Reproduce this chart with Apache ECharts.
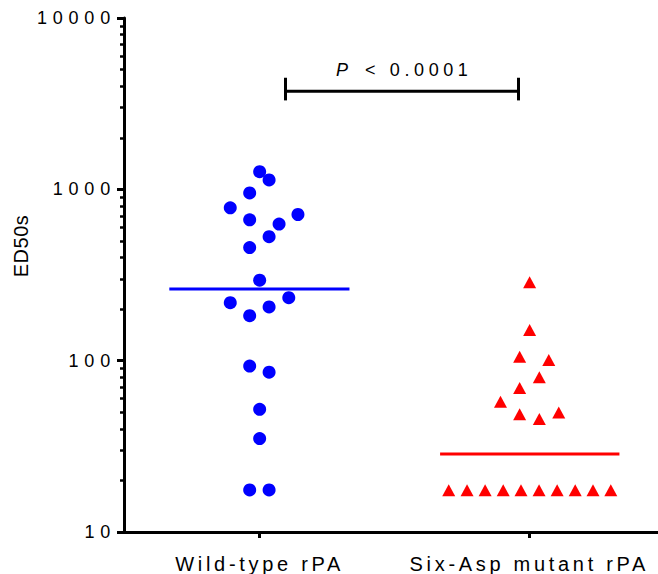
<!DOCTYPE html>
<html>
<head>
<meta charset="utf-8">
<script src="https://cdn.jsdelivr.net/npm/echarts@6/dist/echarts.min.js"></script>
<style>
html,body{margin:0;padding:0;background:#fff;}
#main{width:658px;height:574px;}
</style>
</head>
<body>
<div id="main"></div>
<script>
// ---- data ----
const categories = ['Wild-type rPA', 'Six-Asp mutant rPA'];
const categoryPos = [1, 2];
const yMajorTicks = [10, 100, 1000, 10000];
const yMinorTicks = [20, 30, 40, 50, 60, 70, 80, 90,
                     200, 300, 400, 500, 600, 700, 800, 900,
                     2000, 3000, 4000, 5000, 6000, 7000, 8000, 9000];
const yAxisName = 'ED50s';

// Wild-type rPA (blue circles): horizontal jitter position + value
const wtX = [1.000, 1.035, 0.963, 0.891, 0.963, 1.142, 1.072, 1.035, 0.963, 1.000,
             0.891, 1.108, 1.035, 0.963, 0.963, 1.035, 1.000, 1.000, 0.963, 1.035];
const wtY = [1268, 1134, 953, 780, 664, 713, 627, 529, 457, 295,
             218, 233, 206, 183, 93, 85.7, 52, 35.1, 17.6, 17.6];
const wtMedian = 262;
const wtMedianSpan = [0.665, 1.333];

// Six-Asp mutant rPA (red triangles)
const mutX = [2.001, 2.001, 1.964, 2.072, 2.037, 1.964, 1.893, 1.964, 2.037, 2.109,
              1.701, 1.769, 1.836, 1.903, 1.969, 2.036, 2.103, 2.170, 2.236, 2.302];
const mutY = [287, 151, 105.5, 101, 80, 69.2, 57.5, 48.6, 45.7, 49.9,
              17.5, 17.5, 17.5, 17.5, 17.5, 17.5, 17.5, 17.5, 17.5, 17.5];
const mutMedian = 28.5;
const mutMedianSpan = [1.669, 2.334];

// significance annotation
const bracketX = [1.094, 1.959];
const bracketY = 3741;
const bracketCap = [3304, 4480];
const pLabelY = 5000;
const pItalicX = 1.3055;
const pRestX = 1.391;
const pLabelItalic = 'P';
const pLabelRest = '< 0.0001';

// ---- chart ----
const FONT = '"Liberation Sans", Arial, Helvetica, sans-serif';
const chart = echarts.init(document.getElementById('main'), null, {renderer: 'svg'});

const option = {
  animation: false,
  backgroundColor: '#ffffff',
  textStyle: {fontFamily: FONT, color: '#000'},
  grid: {left: 124, right: 0, top: 18, bottom: 39, containLabel: false},
  xAxis: {
    type: 'value',
    min: 0.497,
    max: 2.477,
    axisLine: {show: true, lineStyle: {color: '#000', width: 3}},
    axisTick: {show: true, customValues: categoryPos, length: 6, lineStyle: {color: '#000', width: 3}},
    axisLabel: {
      show: true, customValues: categoryPos, margin: 22, fontSize: 20, color: '#000', fontFamily: FONT,
      formatter: function (v) { return categories[Math.round(v) - 1] || ''; }
    },
    splitLine: {show: false}
  },
  yAxis: [
    {
      type: 'log', logBase: 10, min: 10, max: 10000, position: 'left',
      axisLine: {show: true, lineStyle: {color: '#000', width: 3}},
      axisTick: {show: true, customValues: yMajorTicks, length: 7, lineStyle: {color: '#000', width: 3}},
      axisLabel: {
        show: true, customValues: yMajorTicks, margin: 8, fontSize: 18, color: '#000', fontFamily: FONT,
        formatter: function (v) { return String(Math.round(v)); }
      },
      splitLine: {show: false}
    },
    {
      type: 'log', logBase: 10, min: 10, max: 10000, position: 'left',
      axisLine: {show: false},
      axisTick: {show: true, customValues: yMinorTicks, length: 4, lineStyle: {color: '#000', width: 2.5}},
      axisLabel: {show: false},
      splitLine: {show: false}
    }
  ],
  graphic: [{
    type: 'text',
    x: 21, y: 246, rotation: Math.PI / 2,
    style: {text: yAxisName, fontSize: 20, fontFamily: FONT, fill: '#000', align: 'center', verticalAlign: 'middle'}
  }],
  series: [
    {
      name: 'median-wt', type: 'line', symbol: 'none', silent: true, z: 1,
      data: [[wtMedianSpan[0], wtMedian], [wtMedianSpan[1], wtMedian]],
      lineStyle: {color: '#0000ff', width: 3}
    },
    {
      name: 'median-mut', type: 'line', symbol: 'none', silent: true, z: 1,
      data: [[mutMedianSpan[0], mutMedian], [mutMedianSpan[1], mutMedian]],
      lineStyle: {color: '#ff0000', width: 3}
    },
    {
      name: categories[0], type: 'scatter', symbol: 'circle', symbolSize: 13, z: 3,
      itemStyle: {color: '#0000ff', opacity: 1},
      data: wtX.map(function (x, i) { return [x, wtY[i]]; })
    },
    {
      name: categories[1], type: 'scatter', symbol: 'triangle', symbolSize: [13, 12], z: 3,
      itemStyle: {color: '#ff0000', opacity: 1},
      data: mutX.map(function (x, i) { return [x, mutY[i]]; })
    },
    {
      name: 'bracket', type: 'line', symbol: 'none', silent: true, z: 2,
      data: [[bracketX[0], bracketY], [bracketX[1], bracketY]],
      lineStyle: {color: '#000', width: 3},
      markLine: {
        silent: true, symbol: 'none', label: {show: false},
        lineStyle: {color: '#000', width: 3, type: 'solid'},
        data: [
          [{coord: [bracketX[0], bracketCap[0]]}, {coord: [bracketX[0], bracketCap[1]]}],
          [{coord: [bracketX[1], bracketCap[0]]}, {coord: [bracketX[1], bracketCap[1]]}]
        ]
      }
    },
    {
      name: 'p-value', type: 'scatter', symbolSize: 1, silent: true, z: 4,
      itemStyle: {color: 'rgba(0,0,0,0)', opacity: 1},
      label: {show: true, position: 'inside', fontSize: 18, color: '#000', fontFamily: FONT, opacity: 1},
      data: [
        {value: [pItalicX, pLabelY], label: {formatter: pLabelItalic, fontStyle: 'italic', align: 'center'}},
        {value: [pRestX, pLabelY], label: {formatter: pLabelRest, align: 'left'}}
      ]
    }
  ]
};
chart.setOption(option);

function applySpacing() {
  document.querySelectorAll('#main svg text').forEach(function (t) {
    const s = t.textContent;
    let ls = '4.6px';
    if (/^\d+$/.test(s)) ls = '5.8px';
    else if (s === yAxisName) ls = '0.5px';
    else if (s === pLabelItalic) ls = '0px';
    else if (s.indexOf('rPA') >= 0) ls = '3.7px';
    t.style.letterSpacing = ls;
  });
}
chart.on('finished', applySpacing);
applySpacing();
setTimeout(applySpacing, 0);
</script>
</body>
</html>
